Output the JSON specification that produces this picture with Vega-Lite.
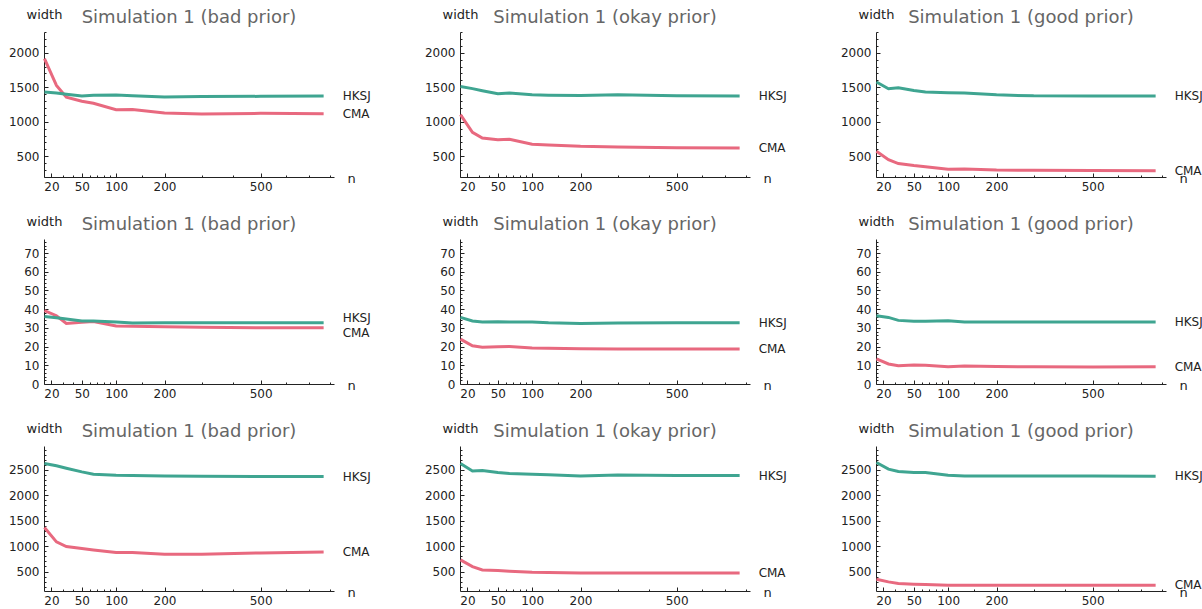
{
  "$schema": "https://vega.github.io/schema/vega-lite/v6.json",
  "padding": {"left": 8, "top": 8, "right": 0, "bottom": 0},
  "background": "white",
  "datasets": {
    "d": [
      {"p":1,"m":"CMA","n":15,"w":1913},{"p":1,"m":"CMA","n":24,"w":1527},{"p":1,"m":"CMA","n":33,"w":1357},{"p":1,"m":"CMA","n":50,"w":1298},{"p":1,"m":"CMA","n":65,"w":1268},{"p":1,"m":"CMA","n":100,"w":1175},{"p":1,"m":"CMA","n":130,"w":1176},{"p":1,"m":"CMA","n":200,"w":1126},{"p":1,"m":"CMA","n":300,"w":1112},{"p":1,"m":"CMA","n":500,"w":1122},{"p":1,"m":"CMA","n":770,"w":1117},
      {"p":1,"m":"HKSJ","n":15,"w":1430},{"p":1,"m":"HKSJ","n":24,"w":1418},{"p":1,"m":"HKSJ","n":33,"w":1400},{"p":1,"m":"HKSJ","n":50,"w":1373},{"p":1,"m":"HKSJ","n":65,"w":1385},{"p":1,"m":"HKSJ","n":100,"w":1386},{"p":1,"m":"HKSJ","n":130,"w":1378},{"p":1,"m":"HKSJ","n":200,"w":1358},{"p":1,"m":"HKSJ","n":300,"w":1365},{"p":1,"m":"HKSJ","n":500,"w":1368},{"p":1,"m":"HKSJ","n":770,"w":1372},
      {"p":2,"m":"CMA","n":15,"w":1103},{"p":2,"m":"CMA","n":24,"w":847},{"p":2,"m":"CMA","n":33,"w":765},{"p":2,"m":"CMA","n":50,"w":741},{"p":2,"m":"CMA","n":65,"w":745},{"p":2,"m":"CMA","n":100,"w":673},{"p":2,"m":"CMA","n":130,"w":662},{"p":2,"m":"CMA","n":200,"w":644},{"p":2,"m":"CMA","n":300,"w":636},{"p":2,"m":"CMA","n":500,"w":625},{"p":2,"m":"CMA","n":770,"w":620},
      {"p":2,"m":"HKSJ","n":15,"w":1512},{"p":2,"m":"HKSJ","n":24,"w":1480},{"p":2,"m":"HKSJ","n":33,"w":1450},{"p":2,"m":"HKSJ","n":50,"w":1407},{"p":2,"m":"HKSJ","n":65,"w":1415},{"p":2,"m":"HKSJ","n":100,"w":1390},{"p":2,"m":"HKSJ","n":130,"w":1385},{"p":2,"m":"HKSJ","n":200,"w":1382},{"p":2,"m":"HKSJ","n":300,"w":1392},{"p":2,"m":"HKSJ","n":500,"w":1378},{"p":2,"m":"HKSJ","n":770,"w":1372},
      {"p":3,"m":"CMA","n":15,"w":572},{"p":3,"m":"CMA","n":24,"w":451},{"p":3,"m":"CMA","n":33,"w":394},{"p":3,"m":"CMA","n":50,"w":365},{"p":3,"m":"CMA","n":65,"w":348},{"p":3,"m":"CMA","n":100,"w":311},{"p":3,"m":"CMA","n":130,"w":316},{"p":3,"m":"CMA","n":200,"w":301},{"p":3,"m":"CMA","n":300,"w":297},{"p":3,"m":"CMA","n":500,"w":293},{"p":3,"m":"CMA","n":770,"w":292},
      {"p":3,"m":"HKSJ","n":15,"w":1575},{"p":3,"m":"HKSJ","n":24,"w":1479},{"p":3,"m":"HKSJ","n":33,"w":1493},{"p":3,"m":"HKSJ","n":50,"w":1454},{"p":3,"m":"HKSJ","n":65,"w":1432},{"p":3,"m":"HKSJ","n":100,"w":1421},{"p":3,"m":"HKSJ","n":130,"w":1418},{"p":3,"m":"HKSJ","n":200,"w":1390},{"p":3,"m":"HKSJ","n":300,"w":1375},{"p":3,"m":"HKSJ","n":500,"w":1372},{"p":3,"m":"HKSJ","n":770,"w":1372},
      {"p":4,"m":"CMA","n":15,"w":39.2},{"p":4,"m":"CMA","n":24,"w":36.5},{"p":4,"m":"CMA","n":33,"w":32.4},{"p":4,"m":"CMA","n":50,"w":33.0},{"p":4,"m":"CMA","n":65,"w":33.4},{"p":4,"m":"CMA","n":100,"w":31.0},{"p":4,"m":"CMA","n":130,"w":30.9},{"p":4,"m":"CMA","n":200,"w":30.6},{"p":4,"m":"CMA","n":300,"w":30.3},{"p":4,"m":"CMA","n":500,"w":30.1},{"p":4,"m":"CMA","n":770,"w":30.1},
      {"p":4,"m":"HKSJ","n":15,"w":36.1},{"p":4,"m":"HKSJ","n":24,"w":35.4},{"p":4,"m":"HKSJ","n":33,"w":34.7},{"p":4,"m":"HKSJ","n":50,"w":33.7},{"p":4,"m":"HKSJ","n":65,"w":33.7},{"p":4,"m":"HKSJ","n":100,"w":33.1},{"p":4,"m":"HKSJ","n":130,"w":32.6},{"p":4,"m":"HKSJ","n":200,"w":32.8},{"p":4,"m":"HKSJ","n":300,"w":32.8},{"p":4,"m":"HKSJ","n":500,"w":32.8},{"p":4,"m":"HKSJ","n":770,"w":32.8},
      {"p":5,"m":"CMA","n":15,"w":24.0},{"p":5,"m":"CMA","n":24,"w":20.4},{"p":5,"m":"CMA","n":33,"w":19.6},{"p":5,"m":"CMA","n":50,"w":19.9},{"p":5,"m":"CMA","n":65,"w":20.1},{"p":5,"m":"CMA","n":100,"w":19.2},{"p":5,"m":"CMA","n":130,"w":19.1},{"p":5,"m":"CMA","n":200,"w":18.9},{"p":5,"m":"CMA","n":300,"w":18.7},{"p":5,"m":"CMA","n":500,"w":18.7},{"p":5,"m":"CMA","n":770,"w":18.7},
      {"p":5,"m":"HKSJ","n":15,"w":35.6},{"p":5,"m":"HKSJ","n":24,"w":33.7},{"p":5,"m":"HKSJ","n":33,"w":33.1},{"p":5,"m":"HKSJ","n":50,"w":33.3},{"p":5,"m":"HKSJ","n":65,"w":33.1},{"p":5,"m":"HKSJ","n":100,"w":33.1},{"p":5,"m":"HKSJ","n":130,"w":32.7},{"p":5,"m":"HKSJ","n":200,"w":32.3},{"p":5,"m":"HKSJ","n":300,"w":32.6},{"p":5,"m":"HKSJ","n":500,"w":32.7},{"p":5,"m":"HKSJ","n":770,"w":32.8},
      {"p":6,"m":"CMA","n":15,"w":13.4},{"p":6,"m":"CMA","n":24,"w":10.7},{"p":6,"m":"CMA","n":33,"w":9.8},{"p":6,"m":"CMA","n":50,"w":10.1},{"p":6,"m":"CMA","n":65,"w":10.0},{"p":6,"m":"CMA","n":100,"w":9.2},{"p":6,"m":"CMA","n":130,"w":9.6},{"p":6,"m":"CMA","n":200,"w":9.3},{"p":6,"m":"CMA","n":300,"w":9.2},{"p":6,"m":"CMA","n":500,"w":9.1},{"p":6,"m":"CMA","n":770,"w":9.2},
      {"p":6,"m":"HKSJ","n":15,"w":36.5},{"p":6,"m":"HKSJ","n":24,"w":35.6},{"p":6,"m":"HKSJ","n":33,"w":34.0},{"p":6,"m":"HKSJ","n":50,"w":33.5},{"p":6,"m":"HKSJ","n":65,"w":33.5},{"p":6,"m":"HKSJ","n":100,"w":33.8},{"p":6,"m":"HKSJ","n":130,"w":33.2},{"p":6,"m":"HKSJ","n":200,"w":33.2},{"p":6,"m":"HKSJ","n":300,"w":33.1},{"p":6,"m":"HKSJ","n":500,"w":33.1},{"p":6,"m":"HKSJ","n":770,"w":33.1},
      {"p":7,"m":"CMA","n":15,"w":1367},{"p":7,"m":"CMA","n":24,"w":1084},{"p":7,"m":"CMA","n":33,"w":993},{"p":7,"m":"CMA","n":50,"w":954},{"p":7,"m":"CMA","n":65,"w":926},{"p":7,"m":"CMA","n":100,"w":875},{"p":7,"m":"CMA","n":130,"w":875},{"p":7,"m":"CMA","n":200,"w":842},{"p":7,"m":"CMA","n":300,"w":842},{"p":7,"m":"CMA","n":500,"w":867},{"p":7,"m":"CMA","n":770,"w":885},
      {"p":7,"m":"HKSJ","n":15,"w":2626},{"p":7,"m":"HKSJ","n":24,"w":2580},{"p":7,"m":"HKSJ","n":33,"w":2533},{"p":7,"m":"HKSJ","n":50,"w":2461},{"p":7,"m":"HKSJ","n":65,"w":2415},{"p":7,"m":"HKSJ","n":100,"w":2396},{"p":7,"m":"HKSJ","n":130,"w":2392},{"p":7,"m":"HKSJ","n":200,"w":2382},{"p":7,"m":"HKSJ","n":300,"w":2375},{"p":7,"m":"HKSJ","n":500,"w":2370},{"p":7,"m":"HKSJ","n":770,"w":2370},
      {"p":8,"m":"CMA","n":15,"w":729},{"p":8,"m":"CMA","n":24,"w":598},{"p":8,"m":"CMA","n":33,"w":533},{"p":8,"m":"CMA","n":50,"w":520},{"p":8,"m":"CMA","n":65,"w":507},{"p":8,"m":"CMA","n":100,"w":487},{"p":8,"m":"CMA","n":130,"w":482},{"p":8,"m":"CMA","n":200,"w":474},{"p":8,"m":"CMA","n":300,"w":474},{"p":8,"m":"CMA","n":500,"w":474},{"p":8,"m":"CMA","n":770,"w":474},
      {"p":8,"m":"HKSJ","n":15,"w":2626},{"p":8,"m":"HKSJ","n":24,"w":2480},{"p":8,"m":"HKSJ","n":33,"w":2487},{"p":8,"m":"HKSJ","n":50,"w":2448},{"p":8,"m":"HKSJ","n":65,"w":2428},{"p":8,"m":"HKSJ","n":100,"w":2415},{"p":8,"m":"HKSJ","n":130,"w":2405},{"p":8,"m":"HKSJ","n":200,"w":2382},{"p":8,"m":"HKSJ","n":300,"w":2402},{"p":8,"m":"HKSJ","n":500,"w":2389},{"p":8,"m":"HKSJ","n":770,"w":2389},
      {"p":9,"m":"CMA","n":15,"w":350},{"p":9,"m":"CMA","n":24,"w":297},{"p":9,"m":"CMA","n":33,"w":265},{"p":9,"m":"CMA","n":50,"w":251},{"p":9,"m":"CMA","n":65,"w":245},{"p":9,"m":"CMA","n":100,"w":232},{"p":9,"m":"CMA","n":130,"w":232},{"p":9,"m":"CMA","n":200,"w":232},{"p":9,"m":"CMA","n":300,"w":232},{"p":9,"m":"CMA","n":500,"w":232},{"p":9,"m":"CMA","n":770,"w":232},
      {"p":9,"m":"HKSJ","n":15,"w":2645},{"p":9,"m":"HKSJ","n":24,"w":2514},{"p":9,"m":"HKSJ","n":33,"w":2468},{"p":9,"m":"HKSJ","n":50,"w":2448},{"p":9,"m":"HKSJ","n":65,"w":2448},{"p":9,"m":"HKSJ","n":100,"w":2396},{"p":9,"m":"HKSJ","n":130,"w":2382},{"p":9,"m":"HKSJ","n":200,"w":2382},{"p":9,"m":"HKSJ","n":300,"w":2382},{"p":9,"m":"HKSJ","n":500,"w":2378},{"p":9,"m":"HKSJ","n":770,"w":2376}
    ]
  },
  "columns": 3,
  "spacing": {"row": 62, "column": 126},
  "bounds": "flush",
  "concat": [
    {"width":290,"height":145,"title":"Simulation 1 (bad prior)","data":{"name":"d"},"transform":[{"filter":"datum.p == 1"}],
     "encoding":{
       "x":{"field":"n","type":"quantitative","scale":{"type":"sqrt","domain":[14.7,820],"nice":false,"zero":false},"axis":{"title":"n","values":[20,30,40,50,60,70,80,90,100,150,200,300,400,500,600,700,800],"format":"d","labelExpr":"indexof([20,50,100,200,500], datum.value) >= 0 ? datum.label : ''","tickSize":{"condition":{"test":"indexof([20,50,100,200,500], datum.value) >= 0","value":-4},"value":-2},"labelPadding":8,"titleX":307,"titleY":5,"titleAlign":"center","titleBaseline":"alphabetic","titleAngle":0}},
       "y":{"field":"w","type":"quantitative","scale":{"domain":[200,2300],"nice":false,"zero":false},"axis":{"title":"width","values":[200,300,400,500,600,700,800,900,1000,1100,1200,1300,1400,1500,1600,1700,1800,1900,2000,2100,2200,2300],"format":"d","labelExpr":"datum.value % 500 == 0 ? datum.label : ''","tickSize":{"condition":{"test":"datum.value % 500 == 0","value":-4},"value":-2},"labelPadding":9,"titleX":0,"titleY":-13.7,"titleAlign":"center","titleBaseline":"alphabetic","titleAngle":0}},
       "color":{"field":"m","type":"nominal","scale":{"domain":["HKSJ","CMA"],"range":["#3fa591","#e8697f"]},"legend":null}},
     "layer":[{"mark":{"type":"line","strokeWidth":3}},{"transform":[{"filter":"datum.n == 770"}],"mark":{"type":"text","align":"left","baseline":"middle","dx":19,"color":"#222"},"encoding":{"text":{"field":"m"},"color":{"value":"#222"}}}]},
    {"width":290,"height":145,"title":"Simulation 1 (okay prior)","data":{"name":"d"},"transform":[{"filter":"datum.p == 2"}],
     "encoding":{
       "x":{"field":"n","type":"quantitative","scale":{"type":"sqrt","domain":[14.7,820],"nice":false,"zero":false},"axis":{"title":"n","values":[20,30,40,50,60,70,80,90,100,150,200,300,400,500,600,700,800],"format":"d","labelExpr":"indexof([20,50,100,200,500], datum.value) >= 0 ? datum.label : ''","tickSize":{"condition":{"test":"indexof([20,50,100,200,500], datum.value) >= 0","value":-4},"value":-2},"labelPadding":8,"titleX":307,"titleY":5,"titleAlign":"center","titleBaseline":"alphabetic","titleAngle":0}},
       "y":{"field":"w","type":"quantitative","scale":{"domain":[200,2300],"nice":false,"zero":false},"axis":{"title":"width","values":[200,300,400,500,600,700,800,900,1000,1100,1200,1300,1400,1500,1600,1700,1800,1900,2000,2100,2200,2300],"format":"d","labelExpr":"datum.value % 500 == 0 ? datum.label : ''","tickSize":{"condition":{"test":"datum.value % 500 == 0","value":-4},"value":-2},"labelPadding":9,"titleX":0,"titleY":-13.7,"titleAlign":"center","titleBaseline":"alphabetic","titleAngle":0}},
       "color":{"field":"m","type":"nominal","scale":{"domain":["HKSJ","CMA"],"range":["#3fa591","#e8697f"]},"legend":null}},
     "layer":[{"mark":{"type":"line","strokeWidth":3}},{"transform":[{"filter":"datum.n == 770"}],"mark":{"type":"text","align":"left","baseline":"middle","dx":19,"color":"#222"},"encoding":{"text":{"field":"m"},"color":{"value":"#222"}}}]},
    {"width":290,"height":145,"title":"Simulation 1 (good prior)","data":{"name":"d"},"transform":[{"filter":"datum.p == 3"}],
     "encoding":{
       "x":{"field":"n","type":"quantitative","scale":{"type":"sqrt","domain":[14.7,820],"nice":false,"zero":false},"axis":{"title":"n","values":[20,30,40,50,60,70,80,90,100,150,200,300,400,500,600,700,800],"format":"d","labelExpr":"indexof([20,50,100,200,500], datum.value) >= 0 ? datum.label : ''","tickSize":{"condition":{"test":"indexof([20,50,100,200,500], datum.value) >= 0","value":-4},"value":-2},"labelPadding":8,"titleX":307,"titleY":5,"titleAlign":"center","titleBaseline":"alphabetic","titleAngle":0}},
       "y":{"field":"w","type":"quantitative","scale":{"domain":[200,2300],"nice":false,"zero":false},"axis":{"title":"width","values":[200,300,400,500,600,700,800,900,1000,1100,1200,1300,1400,1500,1600,1700,1800,1900,2000,2100,2200,2300],"format":"d","labelExpr":"datum.value % 500 == 0 ? datum.label : ''","tickSize":{"condition":{"test":"datum.value % 500 == 0","value":-4},"value":-2},"labelPadding":9,"titleX":0,"titleY":-13.7,"titleAlign":"center","titleBaseline":"alphabetic","titleAngle":0}},
       "color":{"field":"m","type":"nominal","scale":{"domain":["HKSJ","CMA"],"range":["#3fa591","#e8697f"]},"legend":null}},
     "layer":[{"mark":{"type":"line","strokeWidth":3}},{"transform":[{"filter":"datum.n == 770"}],"mark":{"type":"text","align":"left","baseline":"middle","dx":19,"color":"#222"},"encoding":{"text":{"field":"m"},"color":{"value":"#222"}}}]},
    {"width":290,"height":145,"title":"Simulation 1 (bad prior)","data":{"name":"d"},"transform":[{"filter":"datum.p == 4"}],
     "encoding":{
       "x":{"field":"n","type":"quantitative","scale":{"type":"sqrt","domain":[14.7,820],"nice":false,"zero":false},"axis":{"title":"n","values":[20,30,40,50,60,70,80,90,100,150,200,300,400,500,600,700,800],"format":"d","labelExpr":"indexof([20,50,100,200,500], datum.value) >= 0 ? datum.label : ''","tickSize":{"condition":{"test":"indexof([20,50,100,200,500], datum.value) >= 0","value":-4},"value":-2},"labelPadding":8,"titleX":307,"titleY":5,"titleAlign":"center","titleBaseline":"alphabetic","titleAngle":0}},
       "y":{"field":"w","type":"quantitative","scale":{"domain":[0,77.5],"nice":false,"zero":false},"axis":{"title":"width","values":[0,2,4,6,8,10,12,14,16,18,20,22,24,26,28,30,32,34,36,38,40,42,44,46,48,50,52,54,56,58,60,62,64,66,68,70,72,74,76],"format":"d","labelExpr":"datum.value % 10 == 0 ? datum.label : ''","tickSize":{"condition":{"test":"datum.value % 10 == 0","value":-4},"value":-2},"labelPadding":9,"titleX":0,"titleY":-13.7,"titleAlign":"center","titleBaseline":"alphabetic","titleAngle":0}},
       "color":{"field":"m","type":"nominal","scale":{"domain":["HKSJ","CMA"],"range":["#3fa591","#e8697f"]},"legend":null}},
     "layer":[{"mark":{"type":"line","strokeWidth":3}},{"transform":[{"filter":"datum.n == 770 && datum.m == 'HKSJ'"}],"mark":{"type":"text","align":"left","baseline":"middle","dx":19,"dy":-5,"color":"#222"},"encoding":{"text":{"field":"m"},"color":{"value":"#222"}}},{"transform":[{"filter":"datum.n == 770 && datum.m == 'CMA'"}],"mark":{"type":"text","align":"left","baseline":"middle","dx":19,"dy":5,"color":"#222"},"encoding":{"text":{"field":"m"},"color":{"value":"#222"}}}]},
    {"width":290,"height":145,"title":"Simulation 1 (okay prior)","data":{"name":"d"},"transform":[{"filter":"datum.p == 5"}],
     "encoding":{
       "x":{"field":"n","type":"quantitative","scale":{"type":"sqrt","domain":[14.7,820],"nice":false,"zero":false},"axis":{"title":"n","values":[20,30,40,50,60,70,80,90,100,150,200,300,400,500,600,700,800],"format":"d","labelExpr":"indexof([20,50,100,200,500], datum.value) >= 0 ? datum.label : ''","tickSize":{"condition":{"test":"indexof([20,50,100,200,500], datum.value) >= 0","value":-4},"value":-2},"labelPadding":8,"titleX":307,"titleY":5,"titleAlign":"center","titleBaseline":"alphabetic","titleAngle":0}},
       "y":{"field":"w","type":"quantitative","scale":{"domain":[0,77.5],"nice":false,"zero":false},"axis":{"title":"width","values":[0,2,4,6,8,10,12,14,16,18,20,22,24,26,28,30,32,34,36,38,40,42,44,46,48,50,52,54,56,58,60,62,64,66,68,70,72,74,76],"format":"d","labelExpr":"datum.value % 10 == 0 ? datum.label : ''","tickSize":{"condition":{"test":"datum.value % 10 == 0","value":-4},"value":-2},"labelPadding":9,"titleX":0,"titleY":-13.7,"titleAlign":"center","titleBaseline":"alphabetic","titleAngle":0}},
       "color":{"field":"m","type":"nominal","scale":{"domain":["HKSJ","CMA"],"range":["#3fa591","#e8697f"]},"legend":null}},
     "layer":[{"mark":{"type":"line","strokeWidth":3}},{"transform":[{"filter":"datum.n == 770"}],"mark":{"type":"text","align":"left","baseline":"middle","dx":19,"color":"#222"},"encoding":{"text":{"field":"m"},"color":{"value":"#222"}}}]},
    {"width":290,"height":145,"title":"Simulation 1 (good prior)","data":{"name":"d"},"transform":[{"filter":"datum.p == 6"}],
     "encoding":{
       "x":{"field":"n","type":"quantitative","scale":{"type":"sqrt","domain":[14.7,820],"nice":false,"zero":false},"axis":{"title":"n","values":[20,30,40,50,60,70,80,90,100,150,200,300,400,500,600,700,800],"format":"d","labelExpr":"indexof([20,50,100,200,500], datum.value) >= 0 ? datum.label : ''","tickSize":{"condition":{"test":"indexof([20,50,100,200,500], datum.value) >= 0","value":-4},"value":-2},"labelPadding":8,"titleX":307,"titleY":5,"titleAlign":"center","titleBaseline":"alphabetic","titleAngle":0}},
       "y":{"field":"w","type":"quantitative","scale":{"domain":[0,77.5],"nice":false,"zero":false},"axis":{"title":"width","values":[0,2,4,6,8,10,12,14,16,18,20,22,24,26,28,30,32,34,36,38,40,42,44,46,48,50,52,54,56,58,60,62,64,66,68,70,72,74,76],"format":"d","labelExpr":"datum.value % 10 == 0 ? datum.label : ''","tickSize":{"condition":{"test":"datum.value % 10 == 0","value":-4},"value":-2},"labelPadding":9,"titleX":0,"titleY":-13.7,"titleAlign":"center","titleBaseline":"alphabetic","titleAngle":0}},
       "color":{"field":"m","type":"nominal","scale":{"domain":["HKSJ","CMA"],"range":["#3fa591","#e8697f"]},"legend":null}},
     "layer":[{"mark":{"type":"line","strokeWidth":3}},{"transform":[{"filter":"datum.n == 770"}],"mark":{"type":"text","align":"left","baseline":"middle","dx":19,"color":"#222"},"encoding":{"text":{"field":"m"},"color":{"value":"#222"}}}]},
    {"width":290,"height":145,"title":"Simulation 1 (bad prior)","data":{"name":"d"},"transform":[{"filter":"datum.p == 7"}],
     "encoding":{
       "x":{"field":"n","type":"quantitative","scale":{"type":"sqrt","domain":[14.7,820],"nice":false,"zero":false},"axis":{"title":"n","values":[20,30,40,50,60,70,80,90,100,150,200,300,400,500,600,700,800],"format":"d","labelExpr":"indexof([20,50,100,200,500], datum.value) >= 0 ? datum.label : ''","tickSize":{"condition":{"test":"indexof([20,50,100,200,500], datum.value) >= 0","value":-4},"value":-2},"labelPadding":8,"titleX":307,"titleY":5,"titleAlign":"center","titleBaseline":"alphabetic","titleAngle":0}},
       "y":{"field":"w","type":"quantitative","scale":{"domain":[118,2970],"nice":false,"zero":false},"axis":{"title":"width","values":[200,300,400,500,600,700,800,900,1000,1100,1200,1300,1400,1500,1600,1700,1800,1900,2000,2100,2200,2300,2400,2500,2600,2700,2800,2900],"format":"d","labelExpr":"datum.value % 500 == 0 ? datum.label : ''","tickSize":{"condition":{"test":"datum.value % 500 == 0","value":-4},"value":-2},"labelPadding":9,"titleX":0,"titleY":-13.7,"titleAlign":"center","titleBaseline":"alphabetic","titleAngle":0}},
       "color":{"field":"m","type":"nominal","scale":{"domain":["HKSJ","CMA"],"range":["#3fa591","#e8697f"]},"legend":null}},
     "layer":[{"mark":{"type":"line","strokeWidth":3}},{"transform":[{"filter":"datum.n == 770"}],"mark":{"type":"text","align":"left","baseline":"middle","dx":19,"color":"#222"},"encoding":{"text":{"field":"m"},"color":{"value":"#222"}}}]},
    {"width":290,"height":145,"title":"Simulation 1 (okay prior)","data":{"name":"d"},"transform":[{"filter":"datum.p == 8"}],
     "encoding":{
       "x":{"field":"n","type":"quantitative","scale":{"type":"sqrt","domain":[14.7,820],"nice":false,"zero":false},"axis":{"title":"n","values":[20,30,40,50,60,70,80,90,100,150,200,300,400,500,600,700,800],"format":"d","labelExpr":"indexof([20,50,100,200,500], datum.value) >= 0 ? datum.label : ''","tickSize":{"condition":{"test":"indexof([20,50,100,200,500], datum.value) >= 0","value":-4},"value":-2},"labelPadding":8,"titleX":307,"titleY":5,"titleAlign":"center","titleBaseline":"alphabetic","titleAngle":0}},
       "y":{"field":"w","type":"quantitative","scale":{"domain":[118,2970],"nice":false,"zero":false},"axis":{"title":"width","values":[200,300,400,500,600,700,800,900,1000,1100,1200,1300,1400,1500,1600,1700,1800,1900,2000,2100,2200,2300,2400,2500,2600,2700,2800,2900],"format":"d","labelExpr":"datum.value % 500 == 0 ? datum.label : ''","tickSize":{"condition":{"test":"datum.value % 500 == 0","value":-4},"value":-2},"labelPadding":9,"titleX":0,"titleY":-13.7,"titleAlign":"center","titleBaseline":"alphabetic","titleAngle":0}},
       "color":{"field":"m","type":"nominal","scale":{"domain":["HKSJ","CMA"],"range":["#3fa591","#e8697f"]},"legend":null}},
     "layer":[{"mark":{"type":"line","strokeWidth":3}},{"transform":[{"filter":"datum.n == 770"}],"mark":{"type":"text","align":"left","baseline":"middle","dx":19,"color":"#222"},"encoding":{"text":{"field":"m"},"color":{"value":"#222"}}}]},
    {"width":290,"height":145,"title":"Simulation 1 (good prior)","data":{"name":"d"},"transform":[{"filter":"datum.p == 9"}],
     "encoding":{
       "x":{"field":"n","type":"quantitative","scale":{"type":"sqrt","domain":[14.7,820],"nice":false,"zero":false},"axis":{"title":"n","values":[20,30,40,50,60,70,80,90,100,150,200,300,400,500,600,700,800],"format":"d","labelExpr":"indexof([20,50,100,200,500], datum.value) >= 0 ? datum.label : ''","tickSize":{"condition":{"test":"indexof([20,50,100,200,500], datum.value) >= 0","value":-4},"value":-2},"labelPadding":8,"titleX":307,"titleY":5,"titleAlign":"center","titleBaseline":"alphabetic","titleAngle":0}},
       "y":{"field":"w","type":"quantitative","scale":{"domain":[118,2970],"nice":false,"zero":false},"axis":{"title":"width","values":[200,300,400,500,600,700,800,900,1000,1100,1200,1300,1400,1500,1600,1700,1800,1900,2000,2100,2200,2300,2400,2500,2600,2700,2800,2900],"format":"d","labelExpr":"datum.value % 500 == 0 ? datum.label : ''","tickSize":{"condition":{"test":"datum.value % 500 == 0","value":-4},"value":-2},"labelPadding":9,"titleX":0,"titleY":-13.7,"titleAlign":"center","titleBaseline":"alphabetic","titleAngle":0}},
       "color":{"field":"m","type":"nominal","scale":{"domain":["HKSJ","CMA"],"range":["#3fa591","#e8697f"]},"legend":null}},
     "layer":[{"mark":{"type":"line","strokeWidth":3}},{"transform":[{"filter":"datum.n == 770"}],"mark":{"type":"text","align":"left","baseline":"middle","dx":19,"color":"#222"},"encoding":{"text":{"field":"m"},"color":{"value":"#222"}}}]}
  ],
  "config": {
    "view": {"stroke": null},
    "font": "DejaVu Sans",
    "axis": {"domainColor": "#222", "tickColor": "#222", "labelColor": "#222", "titleColor": "#222", "labelFont": "DejaVu Sans", "titleFont": "DejaVu Sans", "labelFontSize": 12, "titleFontSize": 13, "titleFontWeight": "normal", "grid": false, "domainWidth": 1, "tickWidth": 1, "labelOverlap": false, "labelBound": false, "labelFlush": false},
    "title": {"font": "DejaVu Sans", "fontSize": 18, "fontWeight": "normal", "color": "#666", "anchor": "middle", "frame": "group", "offset": -19, "baseline": "alphabetic"},
    "text": {"font": "DejaVu Sans", "fontSize": 12}
  }
}
